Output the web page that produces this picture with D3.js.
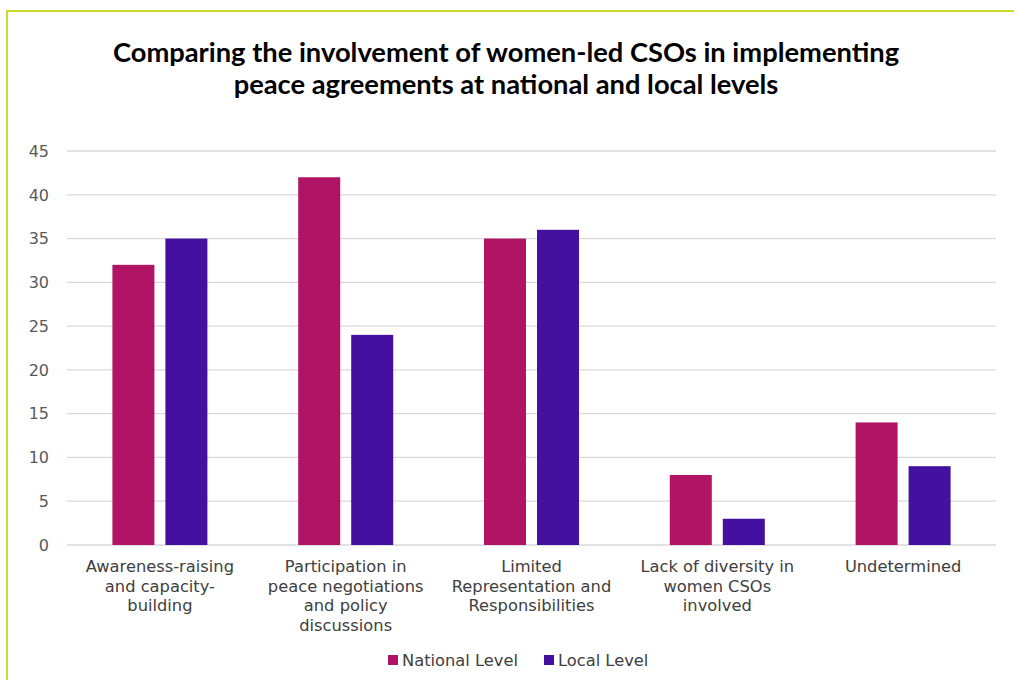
<!DOCTYPE html>
<html>

<head>
    <title>Women-led CSOs in peace agreements</title>
    <script src="https://d3js.org/d3.v7.min.js"></script>
    <style>
        body { margin: 0; background: #fff; }
        .grid line { stroke: #d9d9d9; stroke-width: 1.3px; }
        .tick-label { font-family: "DejaVu Sans", sans-serif; font-size: 16px; fill: #595959; }
        .cat-label { font-family: "DejaVu Sans", sans-serif; font-size: 16.3px; fill: #404040; }
        .title { font-family: Lato, sans-serif; font-weight: bold; font-size: 27.3px; fill: #000; }
    </style>
</head>

<body>
    <div id="chart"></div>
    <script>
        // Data
        var categories = [
            "Awareness-raising\nand capacity-\nbuilding",
            "Participation in\npeace negotiations\nand policy\ndiscussions",
            "Limited\nRepresentation and\nResponsibilities",
            "Lack of diversity in\nwomen CSOs\ninvolved",
            "Undetermined"
        ];
        var series = ["National Level", "Local Level"];
        var nationalLevel = [32, 42, 35, 8, 14];
        var localLevel = [35, 24, 36, 3, 9];
        var yTicks = [0, 5, 10, 15, 20, 25, 30, 35, 40, 45];
        var colors = ["#b21465", "#43109f"];
        var titleLines = [
            "Comparing the involvement of women-led CSOs in implementing",
            "peace agreements at national and local levels"
        ];

        var W = 1014, H = 680;
        var margin = { top: 151, right: 18, bottom: 135, left: 67 },
            width = W - margin.left - margin.right,
            height = H - margin.top - margin.bottom;

        var svg = d3.select("#chart").append("svg")
            .attr("width", W)
            .attr("height", H);

        // frame border (top and left only visible)
        svg.append("line").attr("x1", 6).attr("x2", W).attr("y1", 11).attr("y2", 11)
            .style("stroke", "#cddc2b").style("stroke-width", 2);
        svg.append("line").attr("x1", 7).attr("x2", 7).attr("y1", 10).attr("y2", H)
            .style("stroke", "#cddc2b").style("stroke-width", 2);

        // title
        svg.selectAll(".title").data(titleLines).enter().append("text")
            .attr("class", "title")
            .attr("x", 506)
            .attr("y", function (d, i) { return 62 + i * 32; })
            .style("text-anchor", "middle")
            .text(function (d) { return d; });

        var g = svg.append("g")
            .attr("transform", "translate(" + margin.left + "," + margin.top + ")");

        var data = categories.map(function (c, i) {
            return { cat: c, values: [nationalLevel[i], localLevel[i]] };
        });

        var x0 = d3.scaleBand().domain(categories).range([0, width]).padding(0);
        var groupW = 95;
        var x1 = d3.scaleBand().domain(series).range([0, groupW]).paddingInner(0.2075);
        var y = d3.scaleLinear().domain([0, 45]).range([height, 0]);

        // gridlines
        g.append("g").attr("class", "grid")
            .selectAll("line").data(yTicks).enter().append("line")
            .attr("x1", 0).attr("x2", width)
            .attr("y1", function (d) { return y(d); })
            .attr("y2", function (d) { return y(d); });

        // y tick labels
        g.selectAll(".tick-label").data(yTicks).enter().append("text")
            .attr("class", "tick-label")
            .attr("x", -18)
            .attr("y", function (d) { return y(d); })
            .attr("dy", "0.36em")
            .style("text-anchor", "end")
            .text(function (d) { return d; });

        // bars
        var groups = g.selectAll(".grp").data(data).enter().append("g")
            .attr("transform", function (d) {
                return "translate(" + (x0(d.cat) + (x0.bandwidth() - groupW) / 2) + ",0)";
            });
        groups.selectAll("rect").data(function (d) {
            return d.values.map(function (v, j) { return { s: series[j], v: v, j: j }; });
        }).enter().append("rect")
            .attr("x", function (d) { return x1(d.s); })
            .attr("width", x1.bandwidth())
            .attr("y", function (d) { return y(d.v); })
            .attr("height", function (d) { return height - y(d.v); })
            .style("fill", function (d) { return colors[d.j]; });

        // category labels
        g.selectAll(".cat-label").data(categories).enter().append("text")
            .attr("class", "cat-label")
            .attr("transform", function (d) { return "translate(" + (x0(d) + x0.bandwidth() / 2) + "," + (height + 27) + ")"; })
            .style("text-anchor", "middle")
            .each(function (d) {
                var t = d3.select(this);
                d.split("\n").forEach(function (line, i) {
                    t.append("tspan").attr("x", 0).attr("y", i * 19.5).text(line);
                });
            });

        // legend
        var legendX = [388, 544];
        var legend = svg.selectAll(".legend").data(series).enter().append("g")
            .attr("transform", function (d, i) { return "translate(" + legendX[i] + ",655)"; });
        legend.append("rect").attr("width", 10).attr("height", 10)
            .style("fill", function (d, i) { return colors[i]; });
        legend.append("text")
            .attr("class", "cat-label")
            .attr("x", 14).attr("y", 11)
            .text(function (d) { return d; });
    </script>
</body>

</html>
